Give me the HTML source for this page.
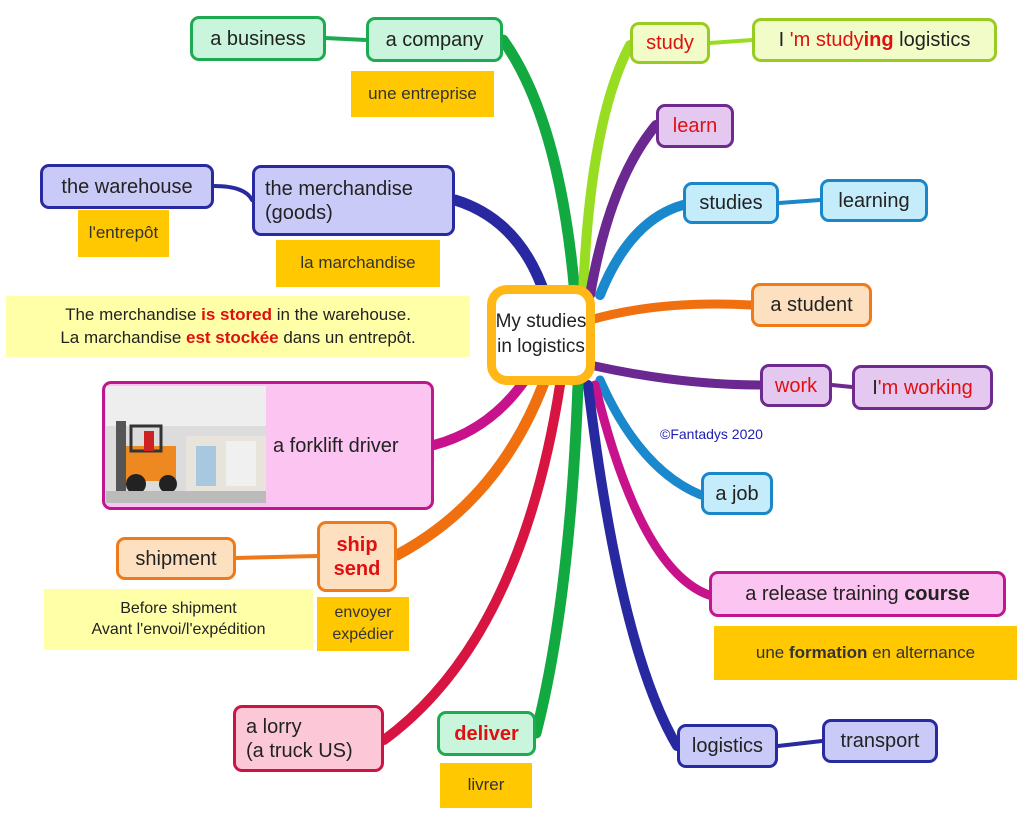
<!DOCTYPE html>
<html><head><meta charset="utf-8"><style>
body{margin:0;width:1024px;height:829px;background:#fff;position:relative;overflow:hidden;font-family:"Liberation Sans",sans-serif;}
.n{position:absolute;box-sizing:border-box;border:3px solid;border-radius:9px;display:flex;align-items:center;justify-content:center;font-size:20px;color:#222;text-align:center;line-height:1.2}
.o{position:absolute;background:#ffc800;display:flex;align-items:center;justify-content:center;font-size:17px;color:#333;text-align:center;line-height:1.35}
.y{position:absolute;background:#ffffa8;display:flex;align-items:center;justify-content:center;font-size:17px;color:#222;text-align:center;line-height:1.3}
.g{background:#c8f5dc;border-color:#1eaa50}
.p{background:#e4c8f0;border-color:#6e2a8e}
.b{background:#c4ecfa;border-color:#1a88c8}
.pe{background:#fde0c0;border-color:#ef7a1a}
.l{background:#cacaf8;border-color:#2a2aa0}
.pk{background:#fcc4f0;border-color:#c0168e}
.r{color:#e01010}
</style></head><body>
<svg width="1024" height="829" style="position:absolute;left:0;top:0" fill="none" stroke-linecap="round">
<path d="M575 295 Q560 120 503 40" stroke="#12aa40" stroke-width="11"/>
<path d="M583 295 Q590 120 630 45" stroke="#99dd22" stroke-width="10"/>
<path d="M590 295 Q610 180 656 125" stroke="#6a2890" stroke-width="10"/>
<path d="M600 295 Q630 220 683 205" stroke="#1a88cc" stroke-width="10"/>
<path d="M545 295 Q520 220 455 200" stroke="#2828a0" stroke-width="11"/>
<path d="M590 320 Q660 300 751 305" stroke="#f07010" stroke-width="9"/>
<path d="M590 365 Q680 385 760 385" stroke="#6a2890" stroke-width="9"/>
<path d="M600 380 Q640 470 701 495" stroke="#1a88cc" stroke-width="9"/>
<path d="M595 385 Q640 570 709 595" stroke="#c8128c" stroke-width="9"/>
<path d="M588 385 Q620 650 677 746" stroke="#2828a0" stroke-width="10"/>
<path d="M578 385 Q570 600 536 733" stroke="#12aa40" stroke-width="11"/>
<path d="M560 385 Q520 640 384 740" stroke="#d81440" stroke-width="10"/>
<path d="M545 380 Q500 500 397 555" stroke="#f07010" stroke-width="11"/>
<path d="M525 380 Q490 430 434 445" stroke="#c8128c" stroke-width="10"/>
<path d="M325 38 L366 40" stroke="#1eaa50" stroke-width="4"/>
<path d="M710 43 L752 40" stroke="#99dd22" stroke-width="4"/>
<path d="M779 203 L820 200" stroke="#1a88c8" stroke-width="4"/>
<path d="M214 186 Q245 186 252 200" stroke="#2a2aa0" stroke-width="4"/>
<path d="M832 385 L852 387" stroke="#6e2a8e" stroke-width="4"/>
<path d="M236 558 L317 556" stroke="#ef7a1a" stroke-width="4"/>
<path d="M778 746 L822 741" stroke="#2a2aa0" stroke-width="4"/>
</svg>
<div style="position:absolute;left:487px;top:285px;width:108px;height:100px;box-sizing:border-box;border:9px solid #ffb818;border-radius:20px;background:#fff;display:flex;align-items:center;justify-content:center;text-align:center;font-size:19px;line-height:1.3;color:#222;white-space:nowrap"><div>My studies<br>in logistics</div></div>

<div class="n g" style="left:190px;top:16px;width:136px;height:45px">a business</div>
<div class="n g" style="left:366px;top:17px;width:137px;height:45px">a company</div>
<div class="o" style="left:351px;top:71px;width:143px;height:46px">une entreprise</div>
<div class="n" style="left:630px;top:22px;width:80px;height:42px;background:#f2fcc8;border-color:#99cc22;color:#e01010">study</div>
<div class="n" style="left:752px;top:18px;width:245px;height:44px;background:#f2fcc8;border-color:#99cc22"><div>I <span class="r">'m study<b>ing</b></span> logistics</div></div>
<div class="n p r" style="left:656px;top:104px;width:78px;height:44px">learn</div>
<div class="n b" style="left:683px;top:182px;width:96px;height:42px">studies</div>
<div class="n b" style="left:820px;top:179px;width:108px;height:43px">learning</div>
<div class="n pe" style="left:751px;top:283px;width:121px;height:44px">a student</div>
<div class="n p r" style="left:760px;top:364px;width:72px;height:43px">work</div>
<div class="n p" style="left:852px;top:365px;width:141px;height:45px"><div>I<span class="r">'m working</span></div></div>
<div style="position:absolute;left:660px;top:426px;font-size:14px;color:#2020b0">©Fantadys 2020</div>
<div class="n b" style="left:701px;top:472px;width:72px;height:43px">a job</div>
<div class="n pk" style="left:709px;top:571px;width:297px;height:46px"><div>a release training <b>course</b></div></div>
<div class="o" style="left:714px;top:626px;width:303px;height:54px"><div>une <b>formation</b> en alternance</div></div>
<div class="n l" style="left:677px;top:724px;width:101px;height:44px">logistics</div>
<div class="n l" style="left:822px;top:719px;width:116px;height:44px">transport</div>
<div class="n g r" style="left:437px;top:711px;width:99px;height:45px;font-weight:bold">deliver</div>
<div class="o" style="left:440px;top:763px;width:92px;height:45px">livrer</div>
<div class="n" style="left:233px;top:705px;width:151px;height:67px;background:#fcc8d8;border-color:#cc1444;justify-content:flex-start;padding-left:10px;text-align:left"><div>a lorry<br>(a truck US)</div></div>
<div class="n pe r" style="left:317px;top:521px;width:80px;height:71px;font-weight:bold"><div>ship<br>send</div></div>
<div class="o" style="left:317px;top:597px;width:92px;height:54px;font-size:16px"><div>envoyer<br>expédier</div></div>
<div class="n pe" style="left:116px;top:537px;width:120px;height:43px">shipment</div>
<div class="y" style="left:44px;top:589px;width:269px;height:61px;font-size:16px"><div>Before shipment<br>Avant l'envoi/l'expédition</div></div>
<div class="n pk" style="left:102px;top:381px;width:332px;height:129px;justify-content:flex-start;padding-left:168px">a forklift driver</div>
<svg style="position:absolute;left:106px;top:386px" width="160" height="117">
<rect width="160" height="117" fill="#dcdcdc"/>
<rect y="0" width="160" height="40" fill="#eeeeee"/>
<rect x="80" y="50" width="80" height="55" fill="#e8e4dc"/>
<rect x="90" y="60" width="20" height="40" fill="#a8c8e0"/>
<rect x="120" y="55" width="30" height="45" fill="#f0f0f0"/>
<rect x="10" y="35" width="10" height="70" fill="#555"/>
<rect x="20" y="60" width="50" height="35" fill="#ee8820"/>
<rect x="25" y="40" width="30" height="25" fill="none" stroke="#333" stroke-width="3"/>
<circle cx="30" cy="98" r="10" fill="#222"/><circle cx="62" cy="98" r="9" fill="#222"/>
<rect x="38" y="45" width="10" height="20" fill="#cc2222"/>
<rect x="0" y="105" width="160" height="12" fill="#bbb"/>
</svg>
<div class="y" style="left:6px;top:296px;width:464px;height:61px"><div>The merchandise <b class="r">is stored</b> in the warehouse.<br>La marchandise <b class="r">est stockée</b> dans un entrepôt.</div></div>
<div class="n l" style="left:40px;top:164px;width:174px;height:45px">the warehouse</div>
<div class="o" style="left:78px;top:210px;width:91px;height:47px">l'entrepôt</div>
<div class="n l" style="left:252px;top:165px;width:203px;height:71px;justify-content:flex-start;padding-left:10px;text-align:left"><div>the merchandise<br>(goods)</div></div>
<div class="o" style="left:276px;top:240px;width:164px;height:47px">la marchandise</div>
</body></html>
